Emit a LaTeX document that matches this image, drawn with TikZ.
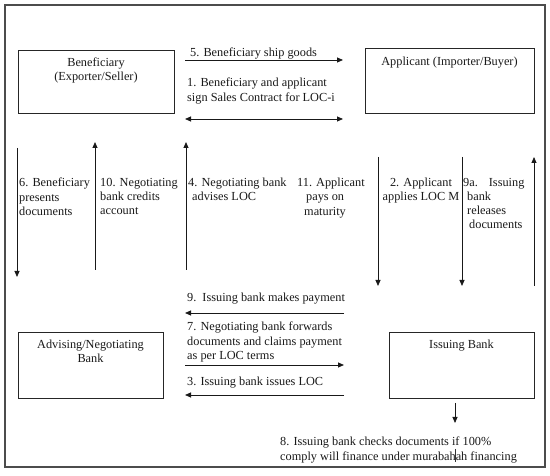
\documentclass[tikz,border=0pt]{standalone}
\usepackage{fontspec}
\setmainfont{Liberation Serif}
\usetikzlibrary{arrows.meta}
\begin{document}
\begin{tikzpicture}[x=1pt,y=-1pt,
  frame/.style={draw=black!70, line width=1.3pt},
  box/.style={draw=black!85, line width=0.8pt, inner sep=0pt},
  txt/.style={inner sep=0pt, font=\rmfamily\fontsize{12.3}{14.2}\selectfont, align=left, anchor=north west, text=black!90},
  ctxt/.style={inner sep=0pt, font=\rmfamily\fontsize{12.3}{14.2}\selectfont, align=center, anchor=north, text=black!90},
  arr/.style={draw=black!90, line width=0.8pt, -{Triangle[length=6pt,width=5pt]}},
  darr/.style={draw=black!90, line width=0.8pt, {Triangle[length=6pt,width=5pt]}-{Triangle[length=6pt,width=5pt]}}
]
\useasboundingbox (0,0) rectangle (550,476);
\draw[frame] (5,5) rectangle (545,467);

% boxes
\node[box, minimum width=156pt, minimum height=63pt] (ben) at (96,81.5) {};
\node[box, minimum width=169pt, minimum height=65pt] (app) at (449.5,80.5) {};
\node[box, minimum width=145pt, minimum height=66pt] (adv) at (90.5,365) {};
\node[box, minimum width=145pt, minimum height=66pt] (iss) at (461.5,365) {};

\node[ctxt] (bent) at ([yshift=-8pt]ben.north) {Beneficiary\\(Exporter/Seller)};
\node[ctxt] (appt) at ([yshift=-9pt]app.north) {Applicant (Importer/Buyer)};
\node[ctxt] (advt) at ([yshift=-8pt]adv.north) {Advising/Negotiating\\Bank};
\node[ctxt] (isst) at ([yshift=-8pt]iss.north) {Issuing Bank};

% arrow end points
\coordinate (a5s) at (185,60);   \coordinate (a5e) at (343,60);
\coordinate (a1s) at (185,119);  \coordinate (a1e) at (343,119);
\coordinate (a6s) at (17,148);   \coordinate (a6e) at (17,277);
\coordinate (a10s) at (95,270);  \coordinate (a10e) at (95,142);
\coordinate (a4s) at (186,270);  \coordinate (a4e) at (186,142);
\coordinate (a11s) at (378,157); \coordinate (a11e) at (378,286);
\coordinate (a2s) at (462,157);  \coordinate (a2e) at (462,286);
\coordinate (a9as) at (534,286); \coordinate (a9ae) at (534,157);
\coordinate (a9s) at (344,313);  \coordinate (a9e) at (185,313);
\coordinate (a7s) at (185,365);  \coordinate (a7e) at (344,365);
\coordinate (a3s) at (344,395);  \coordinate (a3e) at (185,395);
\coordinate (a8s) at (455,403);  \coordinate (a8e) at (455,423);
\coordinate (cur1) at (455,449); \coordinate (cur2) at (455,462);

\draw[arr] (a5s) -- (a5e);
\draw[darr] (a1s) -- (a1e);
\draw[arr] (a6s) -- (a6e);
\draw[arr] (a10s) -- (a10e);
\draw[arr] (a4s) -- (a4e);
\draw[arr] (a11s) -- (a11e);
\draw[arr] (a2s) -- (a2e);
\draw[arr] (a9as) -- (a9ae);
\draw[arr] (a9s) -- (a9e);
\draw[arr] (a7s) -- (a7e);
\draw[arr] (a3s) -- (a3e);
\draw[arr] (a8s) -- (a8e);
\draw[black!80, line width=0.6pt] (cur1) -- (cur2);

% labels
\node[txt] (t5) at (190,48) {5. Beneficiary ship goods};
\node[txt] (t1) at (187,78) {1. Beneficiary and applicant\\sign Sales Contract for LOC-i};
\node[txt] (t6) at (19,178) {6. Beneficiary\\presents\\documents};
\node[txt] (t10) at (100,178) {10. Negotiating\\bank credits\\account};
\node[txt] (t4) at (188,178) {4. Negotiating bank\\\hspace*{4pt}advises LOC};
\node[txt] (t11) at (297,178) {11. Applicant\\\hspace*{9pt}pays on\\\hspace*{7pt}maturity};
\node[ctxt] (t2) at (421,178) {2. Applicant\\applies LOC M};
\node[txt] (t9a) at (463,178) {9a.\hspace*{11pt}Issuing\\\hspace*{4pt}bank\\\hspace*{4pt}releases\\\hspace*{6pt}documents};
\node[txt] (t9) at (187,293) {9.\hspace*{3pt} Issuing bank makes payment};
\node[txt] (t7) at (187,322) {7. Negotiating bank forwards\\documents and claims payment\\as per LOC terms};
\node[txt] (t3) at (187,377) {3. Issuing bank issues LOC};
\node[txt] (t8) at (280,437) {8. Issuing bank checks documents if 100\%\\comply will finance under murabahah financing};
\end{tikzpicture}
\end{document}
